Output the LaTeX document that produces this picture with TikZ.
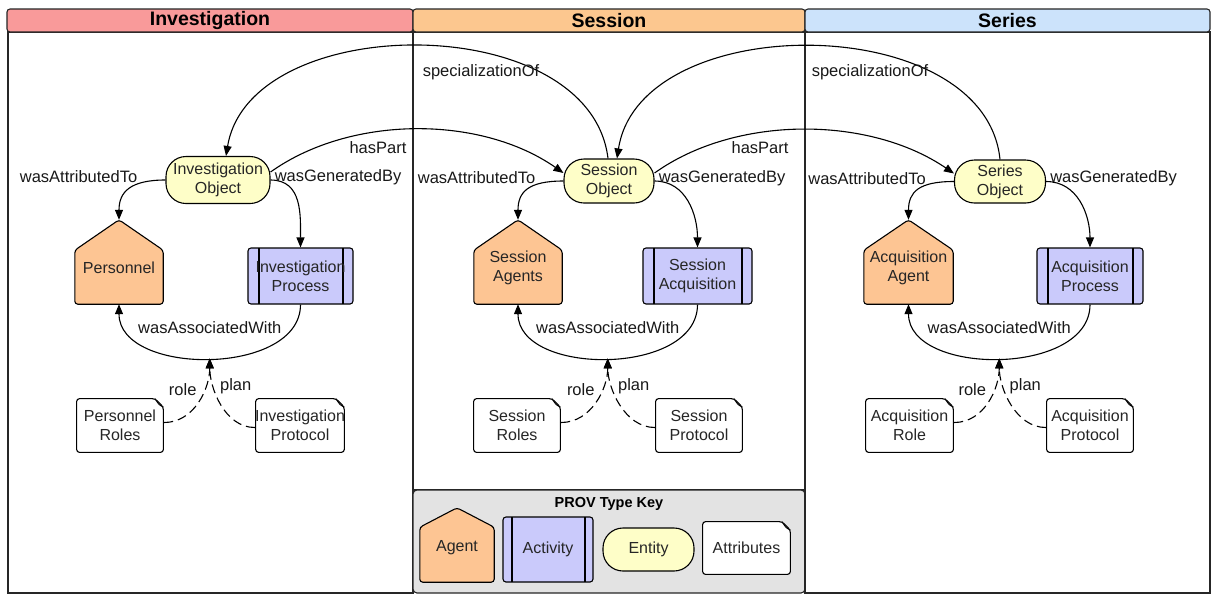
\documentclass[tikz,border=0pt]{standalone}
\usepackage{fontspec}
\setmainfont{Liberation Sans}
\usetikzlibrary{arrows.meta,calc}
\pgfdeclarelayer{panels}
\pgfdeclarelayer{shapes}
\pgfsetlayers{panels,shapes,main}
\definecolor{invred}{HTML}{F99A9A}
\definecolor{sesorange}{HTML}{FCC78F}
\definecolor{serblue}{HTML}{CCE3FB}
\definecolor{agentc}{HTML}{FDC593}
\definecolor{activityc}{HTML}{CACAFB}
\definecolor{entityc}{HTML}{FEFEC8}
\definecolor{keygray}{HTML}{E3E3E3}
\newcommand\agenthouse[3]{%
  \begin{pgfonlayer}{shapes}
  \draw[line width=1.1pt, fill=agentc, rounded corners=3pt]
    (#1.south west) -- ([yshift=#2]#1.south west) -- ([yshift=#3]#1.north)
    -- ([yshift=#2]#1.south east) -- (#1.south east) -- cycle;
  \end{pgfonlayer}
  \coordinate (#1-top) at ([yshift=#3]#1.north);}
\newcommand\provlinks[6]{%
  \draw[edge] (#1.west) .. controls +(-35,0) and +(0,-28) .. (#2-top);
  \draw[edge] (#1.east) .. controls +(32,0) and +(0,-32) .. (#3.north);
  \draw[edge] (#3.south) .. controls +(0,72) and +(0,72) .. (#2.south) coordinate[pos=0.5] (#6);
  \draw[dedge] ([yshift=3pt]#4.east) .. controls +(30,0) and +(0,30) .. (#6);
  \draw[dedge] ([yshift=-2pt]#5.west) .. controls +(-30,0) and +(0,30) .. (#6);
  \node[lbl, anchor=east] (#1-attr) at ([xshift=-28pt,yshift=3pt]#1.west) {wasAttributedTo};
  \node[lbl, anchor=west] (#1-gen) at ([xshift=4pt,yshift=3pt]#1.east) {wasGeneratedBy};
  \node[lbl] (#1-assoc) at ([yshift=31pt]#6) {wasAssociatedWith};
  \node[lbl] (#1-role) at ([xshift=-27pt,yshift=-31pt]#6) {role};
  \node[lbl] (#1-plan) at ([xshift=26pt,yshift=-28pt]#6) {plan};}
\begin{document}
\begin{tikzpicture}[x=1pt,y=-1pt,
  frame/.style={line width=1.1pt, draw=black!85},
  header/.style={draw=black!85, line width=1.1pt, rounded corners=3pt, minimum height=23, inner sep=0pt,
    font=\fontsize{19.5}{22}\selectfont\bfseries},
  nodetext/.style={font=\fontsize{16}{19}\selectfont, align=center, inner sep=0pt, text=black!85},
  lbl/.style={font=\fontsize{16.5}{19}\selectfont, inner sep=0pt, text=black!90},
  entity/.style={nodetext, draw, fill=entityc, rounded corners=20pt, line width=1.1pt},
  activity/.style={nodetext, draw, fill=activityc, rounded corners=3pt, line width=1.1pt, minimum height=56,
    path picture={
      \draw[line width=1.1pt] ([xshift=11pt]path picture bounding box.north west) -- ([xshift=11pt]path picture bounding box.south west);
      \draw[line width=1.1pt] ([xshift=-10pt]path picture bounding box.north east) -- ([xshift=-10pt]path picture bounding box.south east);}},
  agent/.style={nodetext, minimum width=88, minimum height=72},
  note/.style={nodetext, minimum width=88, minimum height=55,
    path picture={
      \draw[line width=1.1pt, fill=white, rounded corners=3pt]
        ([shift={(0.6pt,0.6pt)}]path picture bounding box.south west) --
        ([shift={(0.6pt,-0.6pt)}]path picture bounding box.north west) --
        ([shift={(-9pt,-0.6pt)}]path picture bounding box.north east) --
        ([shift={(-0.6pt,-9pt)}]path picture bounding box.north east) --
        ([shift={(-0.6pt,0.6pt)}]path picture bounding box.south east) -- cycle;
      \draw[line width=0.9pt] ([shift={(-9pt,-0.6pt)}]path picture bounding box.north east)
        .. controls ([shift={(-5pt,-7pt)}]path picture bounding box.north east) ..
        ([shift={(-0.6pt,-9pt)}]path picture bounding box.north east);}},
  edge/.style={line width=1.1pt, -{Triangle[length=10pt,width=8pt]}},
  dedge/.style={line width=1.1pt, dash pattern=on 9pt off 5pt, -{Triangle[length=10pt,width=8pt]}}
]
\useasboundingbox (0,0) rectangle (1212,595);
\begin{pgfonlayer}{panels}
  \fill[white] (0,0) rectangle (1212,595);
  \draw[frame] (8,32) rectangle (413,593);
  \draw[frame] (413,32) rectangle (805,490);
  \draw[frame, fill=keygray, rounded corners=4pt] (413,490) rectangle (805,593);
  \draw[frame] (805,32) rectangle (1210,593);
\end{pgfonlayer}
% headers
\node[header, fill=invred, minimum width=406] (hinv) at (210,20.5) {Investigation};
\node[header, fill=sesorange, minimum width=392] (hses) at (609,20.5) {Session};
\node[header, fill=serblue, minimum width=405] (hser) at (1007.5,20.5) {Series};
% Investigation column
\node[entity, minimum width=104, minimum height=47] (io) at (218,180) {Investigation\\Object};
\node[agent] (pa) at (119,268) {Personnel};
\agenthouse{pa}{54pt}{12pt}
\node[activity, minimum width=105] (ip) at (300.5,276) {Investigation\\Process};
\node[note] (ir) at (120,425.5) {Personnel\\Roles};
\node[note] (iq) at (300,425.5) {Investigation\\Protocol};
\provlinks{io}{pa}{ip}{ir}{iq}{imid}
% Session column
\node[entity, minimum width=90, minimum height=44] (so) at (609,181) {Session\\Object};
\node[agent] (sa) at (518,268) {Session\\Agents};
\agenthouse{sa}{54pt}{12pt}
\node[activity, minimum width=109] (sp) at (697.5,276) {Session\\Acquisition};
\node[note] (sr) at (517,425.5) {Session\\Roles};
\node[note] (sq) at (699,425.5) {Session\\Protocol};
\provlinks{so}{sa}{sp}{sr}{sq}{smid}
% Series column
\node[entity, minimum width=91, minimum height=43] (eo) at (1000,181.5) {Series\\Object};
\node[agent, minimum width=89] (ea) at (908.5,268) {Acquisition\\Agent};
\agenthouse{ea}{54pt}{12pt}
\node[activity, minimum width=106] (ep) at (1090,276) {Acquisition\\Process};
\node[note, minimum width=89] (er) at (909.5,425.5) {Acquisition\\Role};
\node[note] (eq) at (1090,425.5) {Acquisition\\Protocol};
\provlinks{eo}{ea}{ep}{er}{eq}{emid}
% cross-column links
\draw[edge] ([xshift=-1pt]so.north) .. controls +(-18,-150) and +(24,-146) .. ([xshift=8pt]io.north);
\draw[edge] (eo.north) .. controls +(-15,-150) and +(23,-150) .. ([xshift=8pt]so.north);
\draw[edge] ([yshift=8pt]io.east) .. controls +(80,-57) and +(-83,-58) .. ([yshift=8pt]so.west);
\draw[edge] ([yshift=8pt]so.east) .. controls +(81,-58) and +(-85,-58) .. ([yshift=8pt]eo.west);
\node[lbl] (spec1) at (481,72) {specializationOf};
\node[lbl] (spec2) at (870,72) {specializationOf};
\node[lbl] (part1) at (378,148) {hasPart};
\node[lbl] (part2) at (760,148) {hasPart};
% key
\node[font=\fontsize{14.5}{17}\selectfont\bfseries, inner sep=0pt] (ktitle) at (609,504) {PROV Type Key};
\node[agent, minimum width=74, minimum height=68] (ka) at (457,548) {Agent};
\agenthouse{ka}{55pt}{6pt}
\node[activity, minimum width=90, minimum height=65,
  path picture={
    \draw[line width=1.1pt] ([xshift=9pt]path picture bounding box.north west) -- ([xshift=9pt]path picture bounding box.south west);
    \draw[line width=1.1pt] ([xshift=-8pt]path picture bounding box.north east) -- ([xshift=-8pt]path picture bounding box.south east);}]
  (kc) at (548,549.5) {Activity};
\node[entity, minimum width=91, minimum height=43] (ke) at (648.5,549.5) {Entity};
\node[note, minimum width=89, minimum height=54] (kt) at (746.5,548) {Attributes};
\end{tikzpicture}
\end{document}
